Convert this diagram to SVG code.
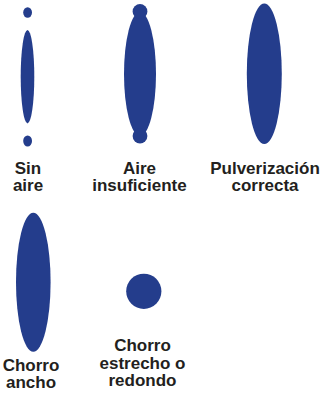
<svg xmlns="http://www.w3.org/2000/svg" width="325" height="393" viewBox="0 0 325 393">
<style>
.s{fill:#243d8c}
.t{font-family:"Liberation Sans",Arial,sans-serif;font-weight:bold;font-size:17px;fill:#231f20;text-anchor:middle}
</style>
<rect width="325" height="393" fill="#ffffff"/>
<g id="sin-aire">
<ellipse class="s" cx="27.6" cy="12.5" rx="4.4" ry="5.2"/>
<ellipse class="s" cx="27.5" cy="76.7" rx="6.8" ry="46.7"/>
<ellipse class="s" cx="27.6" cy="141" rx="4.4" ry="5.5"/>
<text class="t" x="28" y="174">Sin</text>
<text class="t" x="28" y="190.5">aire</text>
</g>
<g id="aire-insuficiente">
<ellipse class="s" cx="140" cy="74" rx="16" ry="62"/>
<circle class="s" cx="140" cy="11.5" r="7.4"/>
<circle class="s" cx="140" cy="136" r="7.4"/>
<text class="t" x="139.5" y="174">Aire</text>
<text class="t" x="139.5" y="190.5">insuficiente</text>
</g>
<g id="pulverizacion-correcta">
<ellipse class="s" cx="264.3" cy="73.7" rx="17.5" ry="70.3"/>
<text class="t" x="265" y="174">Pulverización</text>
<text class="t" x="265" y="190.5">correcta</text>
</g>
<g id="chorro-ancho">
<ellipse class="s" cx="33.3" cy="282.2" rx="17.3" ry="69.5"/>
<text class="t" x="31" y="371">Chorro</text>
<text class="t" x="31" y="387.5">ancho</text>
</g>
<g id="chorro-estrecho">
<circle class="s" cx="143.8" cy="291.3" r="17.6"/>
<text class="t" x="142.5" y="351">Chorro</text>
<text class="t" x="142.5" y="368.5">estrecho o</text>
<text class="t" x="142.5" y="386">redondo</text>
</g>
<g id="connectors"/>
</svg>
